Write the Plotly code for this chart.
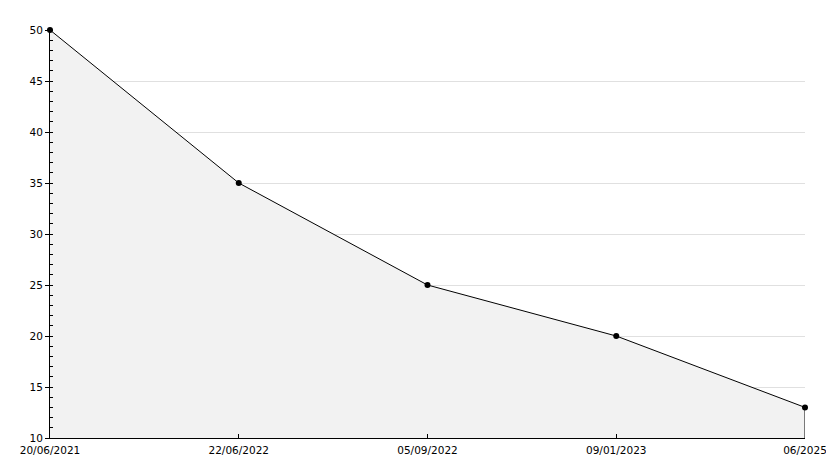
import plotly.graph_objects as go

categories = ["20/06/2021", "22/06/2022", "05/09/2022", "09/01/2023", "06/2025"]
values = [50, 35, 25, 20, 13]
y_ticks = [10, 15, 20, 25, 30, 35, 40, 45, 50]
y_min, y_max = 10, 50

idx = list(range(len(categories)))

fig = go.Figure()
fig.add_trace(go.Scatter(
    x=idx, y=values, mode="lines+markers",
    fill="tozeroy", fillcolor="#f2f2f2",
    line=dict(color="black", width=1),
    marker=dict(color="black", size=6, symbol="circle"),
    showlegend=False, hoverinfo="skip", cliponaxis=False,
))
# right edge of the filled area
fig.add_trace(go.Scatter(
    x=[idx[-1], idx[-1]], y=[y_min, values[-1]], mode="lines",
    line=dict(color="black", width=1), showlegend=False, hoverinfo="skip",
))

fig.update_layout(
    width=834, height=468,
    margin=dict(l=42, r=37, t=22, b=38),
    paper_bgcolor="white", plot_bgcolor="white",
    font=dict(family="DejaVu Sans", size=10.5, color="black"),
)
fig.update_xaxes(
    range=[idx[0], idx[-1]], tickvals=idx, ticktext=categories,
    showgrid=False, zeroline=False, showline=True, linecolor="black", linewidth=1,
    ticks="inside", ticklen=4, tickcolor="black", ticklabelstandoff=2,
)
fig.update_yaxes(
    range=[y_min, y_max], tickvals=y_ticks,
    showgrid=True, gridcolor="#e0e0e0", gridwidth=1, zeroline=False,
    showline=True, linecolor="black", linewidth=1,
    ticks="outside", ticklen=4, tickcolor="black",
    minor=dict(dtick=1, ticks="inside", ticklen=3, tickcolor="black", showgrid=False),
)
fig.write_html("out.html")
